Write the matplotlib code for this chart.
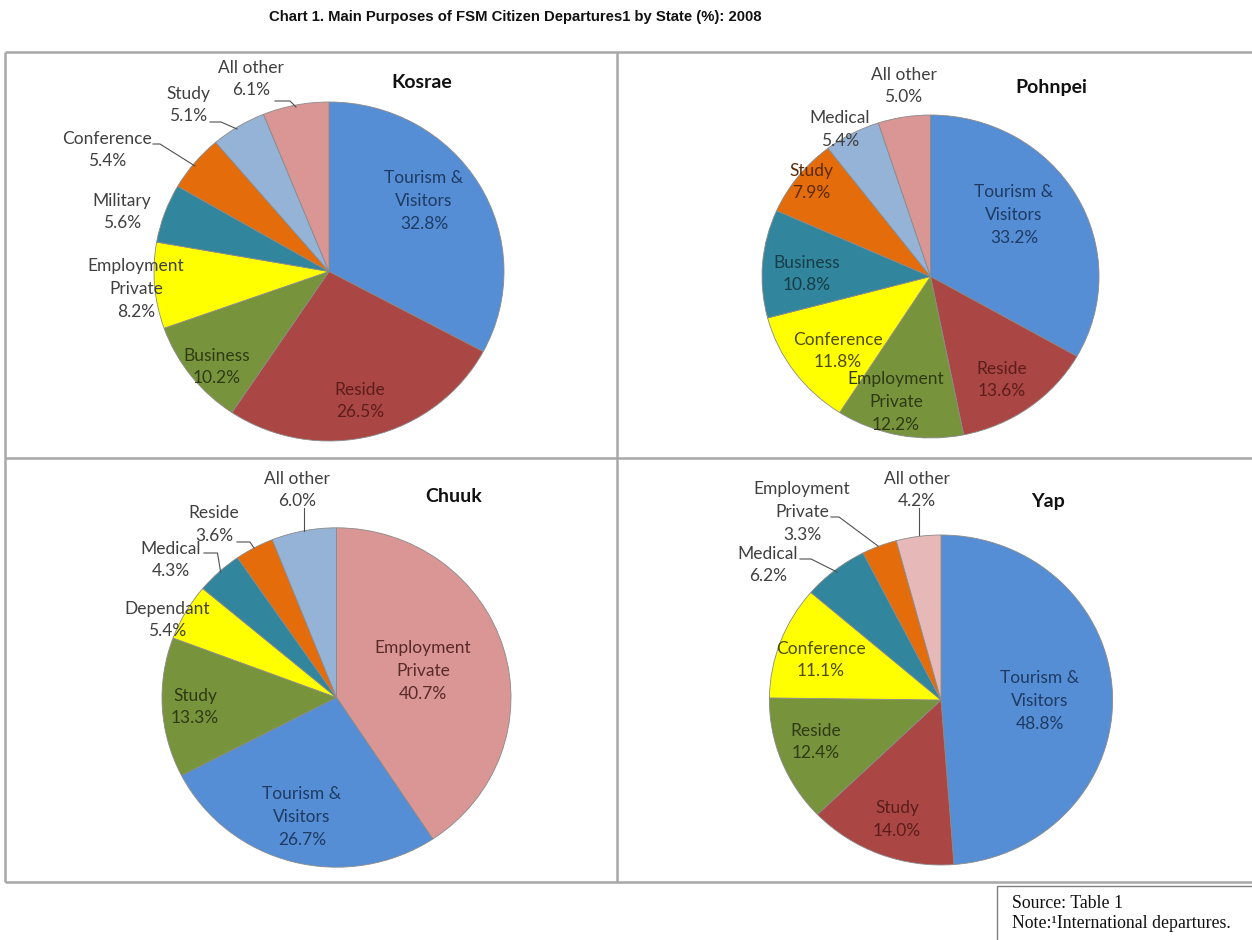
import matplotlib.pyplot as plt
from matplotlib.patches import Rectangle

W, H = 1252, 940

# slice colours
BLUE = "#558ED5"
RED = "#AA4643"
GREEN = "#77933C"
YELLOW = "#FFFF00"
TEAL = "#31859C"
ORANGE = "#E46C0A"
LBLUE = "#95B3D7"
PINK = "#D99694"
LPINK = "#E6B9B8"

# label text colours
OUT = "#404040"
T_BLUE = "#1F3B63"
T_RED = "#5C1E1C"
T_GREEN = "#2F3A14"
T_YELLOW = "#4D4D00"
T_TEAL = "#183D48"
T_ORANGE = "#5A2A04"
T_PINK = "#5A2A29"

# data, clockwise from 12 o'clock
kosrae_names = ["Tourism &\nVisitors", "Reside", "Business", "Employment\nPrivate",
                "Military", "Conference", "Study", "All other"]
kosrae_values = [32.8, 26.5, 10.2, 8.2, 5.6, 5.4, 5.1, 6.1]

pohnpei_names = ["Tourism &\nVisitors", "Reside", "Employment\nPrivate", "Conference",
                 "Business", "Study", "Medical", "All other"]
pohnpei_values = [33.2, 13.6, 12.2, 11.8, 10.8, 7.9, 5.4, 5.0]

chuuk_names = ["Employment\nPrivate", "Tourism &\nVisitors", "Study", "Dependant",
               "Medical", "Reside", "All other"]
chuuk_values = [40.7, 26.7, 13.3, 5.4, 4.3, 3.6, 6.0]

yap_names = ["Tourism &\nVisitors", "Study", "Reside", "Conference",
             "Medical", "Employment\nPrivate", "All other"]
yap_values = [48.8, 14.0, 12.4, 11.1, 6.2, 3.3, 4.2]

LABEL_FONT = ["Lato", "DejaVu Sans"]

fig = plt.figure(figsize=(W / 100, H / 100), dpi=100)

# overlay axes in pixel units for text, frame lines and leader lines
over = fig.add_axes([0, 0, 1, 1], zorder=10)
over.set_xlim(0, W)
over.set_ylim(H, 0)
over.axis("off")
over.patch.set_alpha(0)


def draw_pie(title, names, values, colors, center, radii, title_xy,
             label_xy, text_colors, leaders):
    cx, cy = center
    rx, ry = radii
    ax = fig.add_axes([(cx - rx) / W, (H - cy - ry) / H, 2 * rx / W, 2 * ry / H])
    ax.pie(values, colors=colors, startangle=90, counterclock=False,
           wedgeprops=dict(edgecolor="#8a8a8a", linewidth=0.6))
    ax.set_aspect("auto")
    ax.set_xlim(-1, 1)
    ax.set_ylim(-1, 1)

    over.text(title_xy[0], title_xy[1], title, ha="center", va="center",
              fontsize=14, fontweight="bold", family=LABEL_FONT, color="#111111")
    for name, v, (x, y), c in zip(names, values, label_xy, text_colors):
        over.text(x, y, f"{name}\n{v:.1f}%", ha="center", va="center",
                  fontsize=12.5, family=LABEL_FONT, color=c, linespacing=1.52)
    for pts in leaders:
        xs, ys = zip(*pts)
        over.plot(xs, ys, color="#505050", lw=0.8)


# panel frame
frame = dict(color="#A8A8A8", lw=1.8, solid_capstyle="butt")
over.plot([5, W], [52, 52], **frame)
over.plot([5, W], [882, 882], **frame)
over.plot([5, 5], [52, 882], **frame)
over.plot([617, 617], [52, 882], **frame)
over.plot([5, W], [458, 458], **frame)

over.text(515, 17, "Chart 1. Main Purposes of FSM Citizen Departures1 by State (%): 2008",
          ha="center", va="center", fontsize=10.7, fontweight="bold",
          family=["Liberation Sans", "DejaVu Sans"], color="#111111")

draw_pie("Kosrae", kosrae_names, kosrae_values,
         [BLUE, RED, GREEN, YELLOW, TEAL, ORANGE, LBLUE, PINK],
         (329, 271.5), (175, 169.5), (422, 82),
         [(424, 201), (360, 401), (217, 367), (136, 289), (122, 212),
          (107, 150), (188, 105), (251, 79)],
         [T_BLUE, T_RED, T_GREEN, OUT, OUT, OUT, OUT, OUT],
         [[(153, 144), (160, 144), (195, 166)],
          [(210, 122), (221, 122), (237, 129)],
          [(275, 101), (290, 101), (296, 107)]])

draw_pie("Pohnpei", pohnpei_names, pohnpei_values,
         [BLUE, RED, GREEN, YELLOW, TEAL, ORANGE, LBLUE, PINK],
         (930.5, 276.5), (168.5, 161.5), (1051, 87),
         [(1014, 215), (1002, 380), (896, 402), (838, 351), (807, 274),
          (811, 182), (840, 129.5), (903.5, 86)],
         [T_BLUE, T_RED, T_GREEN, T_YELLOW, T_TEAL, T_ORANGE, OUT, OUT],
         [])

draw_pie("Chuuk", chuuk_names, chuuk_values,
         [PINK, BLUE, GREEN, YELLOW, TEAL, ORANGE, LBLUE],
         (336.5, 697.5), (174.5, 169.7), (454, 496),
         [(423, 671), (302, 817), (195, 707), (167, 620), (171, 560),
          (214, 524.5), (297, 490)],
         [T_PINK, T_BLUE, T_GREEN, OUT, OUT, OUT, OUT],
         [[(304, 508), (304, 531)],
          [(237, 542), (250, 542), (254, 548)],
          [(204, 553), (217.5, 553), (220.6, 572)]])

draw_pie("Yap", yap_names, yap_values,
         [BLUE, RED, GREEN, YELLOW, TEAL, ORANGE, LPINK],
         (941, 700), (171.6, 165), (1048, 502),
         [(1040, 701), (897, 819.5), (816, 742), (821, 660), (768, 565),
          (802, 512), (917, 490)],
         [T_BLUE, T_RED, T_GREEN, T_YELLOW, OUT, OUT, OUT],
         [[(919, 508), (919, 535)],
          [(831, 517), (839, 517), (878, 546)],
          [(800, 559), (811, 559), (837, 572)]])

# source note box
over.add_patch(Rectangle((997, 886), 300, 100, fill=False, edgecolor="#808080", lw=1))
over.text(1012, 904, "Source: Table 1", ha="left", va="center", fontsize=12.8,
          family=["Liberation Serif", "DejaVu Serif"], color="#111111")
over.text(1012, 924, "Note:\u00b9International departures.", ha="left", va="center",
          fontsize=12.8, family=["Liberation Serif", "DejaVu Serif"], color="#111111")

fig.savefig("out.png", dpi=100, facecolor="white")
